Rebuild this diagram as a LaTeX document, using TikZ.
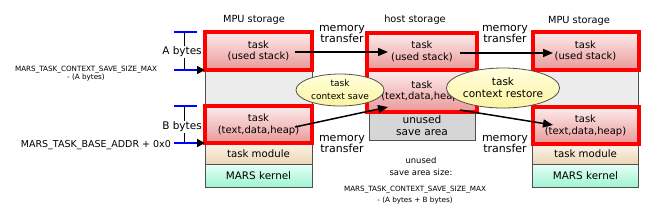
\documentclass[tikz,border=0pt]{standalone}
\usepackage{fontspec}
\setmainfont{DejaVu Sans}
\usetikzlibrary{arrows.meta,shapes.geometric}
\definecolor{redtop}{RGB}{253,236,236}
\definecolor{redbot}{RGB}{234,152,152}
\definecolor{colgray}{RGB}{236,236,236}
\definecolor{edgegray}{RGB}{80,80,80}
\definecolor{modtop}{RGB}{253,244,232}
\definecolor{modbot}{RGB}{236,214,182}
\definecolor{kertop}{RGB}{230,255,245}
\definecolor{kerbot}{RGB}{160,244,212}
\definecolor{unusedgray}{RGB}{214,214,214}
\definecolor{elltop}{RGB}{255,255,222}
\definecolor{ellbot}{RGB}{252,244,160}
\definecolor{tickblue}{RGB}{0,0,255}
\begin{document}
\begin{tikzpicture}[x=1pt,y=-1pt,
  column/.style={draw=edgegray, line width=1pt, fill=colgray},
  redbox/.style={draw=red, line width=4pt, top color=redtop, bottom color=redbot, align=center, inner sep=0pt, font=\fontsize{10}{11.5}\selectfont},
  modbox/.style={draw=edgegray, line width=1pt, top color=modtop, bottom color=modbot, inner sep=0pt, font=\fontsize{10.2}{12}\selectfont},
  kerbox/.style={draw=edgegray, line width=1pt, top color=kertop, bottom color=kerbot, inner sep=0pt, font=\fontsize{10.4}{12}\selectfont},
  unusedbox/.style={draw=edgegray, line width=1pt, fill=unusedgray, align=center, inner sep=0pt, font=\fontsize{10.6}{12}\selectfont},
  ellnode/.style={ellipse, draw=edgegray, line width=0.8pt, top color=elltop, bottom color=ellbot, align=center, inner sep=0pt},
  title/.style={font=\fontsize{9.8}{11}\selectfont, inner sep=0pt},
  mt/.style={font=\fontsize{11}{11}\selectfont, align=center, inner sep=0pt},
  xfer/.style={black, line width=1.5pt, -{Triangle[length=10pt,width=8pt]}},
  tick/.style={tickblue, line width=1.6pt},
  ptr/.style={tickblue, line width=1.6pt, -{Triangle[length=8pt,width=8pt,color=black]}},
  dim/.style={black, line width=1pt},
  bytes/.style={fill=white, inner sep=0.5pt, font=\fontsize{10.5}{12}\selectfont},
  small/.style={font=\fontsize{7.2}{8.4}\selectfont, align=center, inner sep=0pt}
]
\useasboundingbox (0,0) rectangle (650,210);

% titles
\node[title] (t1) at (254,20) {MPU storage};
\node[title] (t2) at (415,20) {host storage};
\node[title] (t3) at (579,21) {MPU storage};

% left column
\node[column, minimum width=107pt, minimum height=155pt, inner sep=0pt] (Lcol) at (258.5,109.5) {};
\node[modbox, minimum width=107pt, minimum height=21pt] (Lmod) at (258.5,153.5) {task module};
\node[kerbox, minimum width=107pt, minimum height=23pt] (Lker) at (258.5,175.5) {MARS kernel};
\node[redbox, minimum width=107pt, minimum height=38pt] (L1) at (258.5,51) {task\\(used stack)};
\node[redbox, minimum width=107pt, minimum height=37pt] (L2) at (258.5,124.5) {task\\(text,data,heap)};

% right column
\node[column, minimum width=106pt, minimum height=155pt, inner sep=0pt] (Rcol) at (585.5,109.5) {};
\node[modbox, minimum width=106pt, minimum height=20pt] (Rmod) at (585.5,154) {task module};
\node[kerbox, minimum width=106pt, minimum height=23pt] (Rker) at (585.5,175.5) {MARS kernel};
\node[redbox, minimum width=106pt, minimum height=38pt] (R1) at (585.5,51) {task\\(used stack)};
\node[redbox, minimum width=106pt, minimum height=37pt] (R2) at (585.5,125.5) {task\\(text,data,heap)};

% host column
\node[unusedbox, minimum width=106pt, minimum height=28pt] (Hu) at (422,126) {unused\\save area};
\node[redbox, minimum width=110pt, minimum height=42pt] (H2) at (422,91) {task\\(text,data,heap)};
\node[redbox, minimum width=110pt, minimum height=37pt] (H1) at (422,51.5) {task\\(used stack)};

% ellipses
\node[ellnode, minimum width=88pt, minimum height=32pt, font=\fontsize{9}{13}\selectfont] (E1) at (340,90) {task\\context save};
\node[ellnode, minimum width=91pt, minimum height=40pt, font=\fontsize{10.5}{12}\selectfont] (E2) at (503,88) {task\\context restore};

% memory transfer labels
\node[mt] (m1) at (342,33.5) {memory\\transfer};
\node[mt] (m2) at (505,34) {memory\\transfer};
\node[mt] (m3) at (342,143.5) {memory\\transfer};
\node[mt] (m4) at (505,143.5) {memory\\transfer};

% transfer arrows
\coordinate (a1s) at (295,52);
\coordinate (a1e) at (388,52);
\coordinate (a2s) at (460,53);
\coordinate (a2e) at (553,53);
\coordinate (a3s) at (295,127);
\coordinate (a3e) at (388,107);
\coordinate (a4s) at (460,110);
\coordinate (a4e) at (553,125);
\draw[xfer] (a1s) -- (a1e);
\draw[xfer] (a2s) -- (a2e);
\draw[xfer] (a3s) -- (a3e);
\draw[xfer] (a4s) -- (a4e);

% A bytes dimension
\coordinate (Ata) at (174,32);
\coordinate (Atb) at (197,32);
\coordinate (Apa) at (174,70);
\coordinate (Apb) at (205,70);
\coordinate (Ava) at (184,32);
\coordinate (Avb) at (184,70);
\draw[dim] (Ava) -- (Avb);
\draw[tick] (Ata) -- (Atb);
\draw[ptr] (Apa) -- (Apb);
\node[bytes] (Ab) at (182,52) {A bytes};

% B bytes dimension
\coordinate (Bta) at (174,106);
\coordinate (Btb) at (197,106);
\coordinate (Bpa) at (174,143);
\coordinate (Bpb) at (205,143);
\coordinate (Bva) at (184,106);
\coordinate (Bvb) at (184,143);
\draw[dim] (Bva) -- (Bvb);
\draw[tick] (Bta) -- (Btb);
\draw[ptr] (Bpa) -- (Bpb);
\node[bytes] (Bb) at (182,127) {B bytes};

% left labels
\node[small] (lmax) at (86,73.5) {MARS\_TASK\_CONTEXT\_SAVE\_SIZE\_MAX\\- (A bytes)};
\node[font=\fontsize{9.5}{11}\selectfont, anchor=east, inner sep=0pt] (lbase) at (171,145) {MARS\_TASK\_BASE\_ADDR + 0x0};

% bottom center labels
\node[font=\fontsize{8.4}{12}\selectfont, align=center, inner sep=0pt] (usz) at (421,166) {unused\\save area size:};
\node[small, font=\fontsize{7.2}{11}\selectfont] (umax) at (415,195.5) {MARS\_TASK\_CONTEXT\_SAVE\_SIZE\_MAX\\- (A bytes + B bytes)};
\end{tikzpicture}
\end{document}
